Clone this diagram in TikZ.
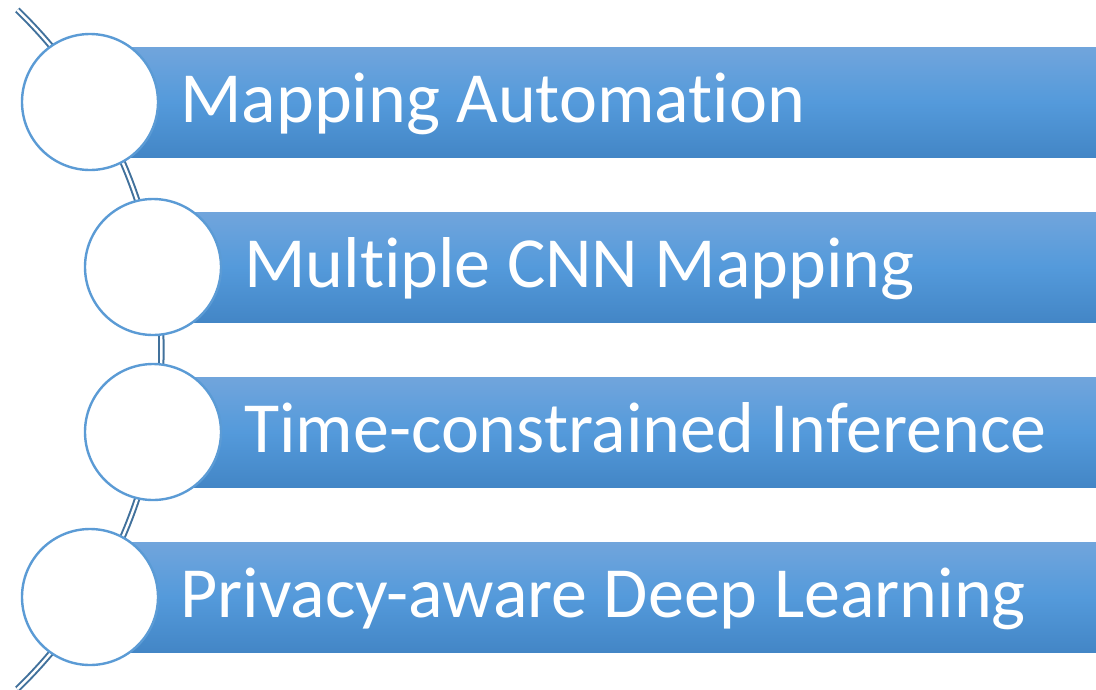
\documentclass[tikz,border=0pt]{standalone}
\usepackage{fontspec}
\setmainfont[Ligatures={NoCommon}]{Carlito}
\definecolor{bartop}{RGB}{113,165,220}
\definecolor{barmid}{RGB}{84,154,219}
\definecolor{barbot}{RGB}{67,134,198}
\definecolor{ringc}{RGB}{91,155,213}
\definecolor{linec}{RGB}{65,113,156}
\tikzset{
  barbox/.style={top color=bartop, bottom color=barbot, middle color=barmid, draw=none},
  ring/.style={circle, draw=ringc, line width=2.4pt, fill=white, minimum size=136pt, inner sep=0pt},
  bartext/.style={anchor=base west, text=white, font=\fontsize{72}{80}\selectfont, inner sep=0pt},
  spine/.style={draw=linec, double=white, double distance=2.4pt, line width=2pt}
}
\begin{document}
\begin{tikzpicture}[x=1pt,y=-1pt]
\useasboundingbox (0,0) rectangle (1096,689);
\begin{scope}
\clip (0,0) rectangle (1096,689);
\coordinate (arcc) at (-310.6,349.5);
\draw[spine] (arcc) ++(-46:472) arc[start angle=-46, end angle=46, radius=472];
\end{scope}
% bars
\path[barbox] (90,47) rectangle (1096,157);
\path[barbox] (153,212) rectangle (1096,322);
\path[barbox] (153,377) rectangle (1096,487);
\path[barbox] (90,542) rectangle (1096,652);
% circles
\node[ring] (c1) at (90,102) {};
\node[ring] (c2) at (153,267) {};
\node[ring] (c3) at (153,432) {};
\node[ring] (c4) at (90,597) {};
% texts
\node[bartext] (t1) at (180,122) {Mapping Automation};
\node[bartext] (t2) at (244,287) {Multiple CNN Mapping};
\node[bartext] (t3) at (244,452) {Time-constrained Inference};
\node[bartext] (t4) at (180,617) {Privacy-aware Deep Learning};
\end{tikzpicture}
\end{document}
